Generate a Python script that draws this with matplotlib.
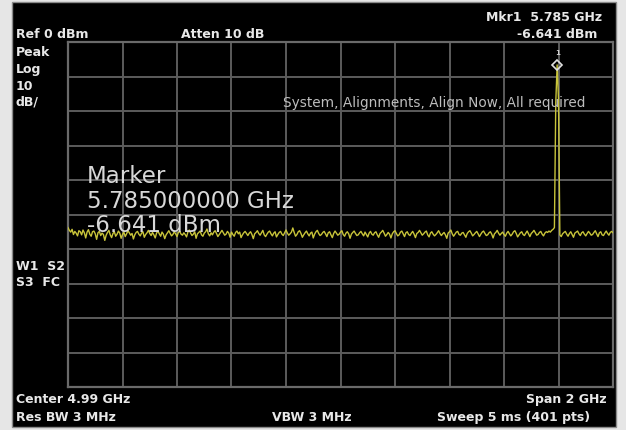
import numpy as np
import matplotlib
matplotlib.use("Agg")
import matplotlib.pyplot as plt
from matplotlib.patches import Rectangle

# analyzer settings
center_ghz = 4.99
span_ghz = 2.0
ref_dbm = 0.0
db_per_div = 10
n_points = 401

marker_freq_ghz = 5.785
marker_dbm = -6.641

# trace values (dBm), 401 points
trace_dbm = [
    -53.8, -54.6, -55.1, -54.3, -55.8, -54.9, -55.4, -56.2, -54.7, -55.0, -55.9, -54.5, -55.3, -56.8, -55.1, -54.4, -55.7, -56.3, -55.0, -54.8,
    -55.6, -57.2, -55.3, -54.9, -56.1, -55.4, -55.8, -57.5, -56.0, -55.2, -54.6, -55.9, -56.7, -55.5, -55.0, -56.3, -55.7, -54.8, -55.4, -56.9,
    -55.8, -55.1, -56.4, -55.6, -54.7, -55.3, -56.0, -55.5, -57.1, -55.9, -55.2, -54.9, -55.7, -56.2, -55.4, -55.0, -56.6, -55.8, -55.3, -54.6,
    -55.5, -56.1, -55.2, -55.9, -56.8, -55.4, -54.8, -55.6, -56.3, -55.1, -55.7, -57.0, -55.9, -55.3, -54.7, -55.5, -56.2, -55.8, -55.0, -55.6,
    -56.4, -55.2, -54.9, -55.7, -56.0, -55.3, -55.8, -56.5, -55.1, -54.5, -55.4, -56.1, -55.7, -55.0, -56.9, -55.6, -55.2, -54.8, -55.9, -56.3,
    -55.4, -55.0, -54.2, -55.6, -56.2, -55.3, -55.9, -55.1, -54.7, -55.5, -56.4, -55.8, -55.2, -54.6, -55.3, -56.0, -55.7, -54.9, -55.4, -56.6,
    -55.1, -55.8, -56.3, -55.2, -54.8, -55.6, -55.1, -56.7, -55.9, -55.3, -54.9, -55.5, -56.1, -55.4, -55.0, -55.8, -57.0, -55.6, -55.2, -54.7,
    -55.5, -56.0, -55.3, -54.6, -55.9, -56.4, -55.7, -55.1, -54.8, -55.6, -56.2, -55.4, -55.0, -56.5, -55.8, -55.2, -54.9, -55.7, -56.1, -55.3,
    -54.5, -55.4, -56.0, -55.6, -55.1, -53.9, -55.2, -56.3, -55.8, -55.0, -54.7, -55.5, -56.6, -55.9, -55.3, -54.8, -55.6, -56.2, -55.4, -55.1,
    -56.8, -55.7, -55.0, -54.6, -55.5, -56.1, -55.8, -55.2, -54.9, -55.6, -56.4, -55.3, -55.0, -55.9, -56.7, -55.5, -54.8, -55.4, -56.0, -55.7,
    -55.1, -54.7, -55.8, -56.3, -55.4, -55.0, -55.6, -56.9, -55.7, -55.2, -54.8, -55.5, -56.1, -55.9, -55.3, -54.9, -55.6, -56.2, -55.1, -55.8,
    -56.5, -55.4, -54.9, -55.7, -56.0, -55.3, -55.0, -55.9, -56.6, -55.5, -55.1, -54.6, -55.4, -56.3, -55.8, -55.2, -55.7, -56.8, -55.6, -55.0,
    -54.7, -55.5, -56.2, -55.9, -55.1, -54.8, -55.6, -56.4, -55.3, -55.0, -55.8, -56.1, -55.4, -54.9, -55.7, -56.7, -55.5, -55.2, -54.6, -55.3,
    -56.0, -55.6, -55.1, -54.8, -55.9, -56.5, -55.4, -55.0, -55.7, -56.2, -55.8, -55.3, -54.7, -55.5, -56.1, -55.6, -55.2, -55.9, -56.9, -55.4,
    -55.0, -54.5, -55.6, -56.3, -55.7, -55.1, -54.9, -55.8, -56.0, -55.4, -55.2, -55.9, -56.6, -55.5, -55.0, -54.7, -55.4, -56.2, -55.8, -55.3,
    -54.9, -55.6, -56.4, -55.7, -55.1, -54.8, -55.5, -56.1, -55.9, -55.3, -55.0, -55.7, -56.8, -55.6, -55.2, -54.6, -55.4, -56.0, -55.5, -55.1,
    -55.8, -56.3, -55.4, -54.9, -55.6, -56.2, -55.7, -55.0, -54.7, -55.5, -56.5, -55.9, -55.3, -55.0, -55.8, -56.1, -55.4, -54.8, -55.6, -56.4,
    -55.5, -55.1, -54.6, -55.3, -56.0, -55.8, -55.2, -54.9, -55.7, -56.2, -55.4, -55.0, -55.2, -54.8, -55.1, -54.6, -54.3, -53.8, -17.5, -6.641,
    -16.8, -55.9, -56.4, -55.6, -55.2, -54.9, -55.7, -56.3, -55.5, -55.0, -55.8, -56.6, -55.4, -55.1, -54.8, -55.6, -56.1, -55.3, -55.0, -55.7,
    -56.2, -55.5, -54.9, -55.4, -56.0, -55.8, -55.2, -54.7, -55.6, -56.4, -55.3, -55.0, -55.9, -56.1, -55.4, -54.8, -55.5, -56.0, -55.2, -54.9,
    -55.3,
]

header_left = ["Ref 0 dBm", "Atten 10 dB"]
mkr_lines = ["Mkr1  5.785 GHz", "-6.641 dBm"]
side_top = ["Peak", "Log", "10", "dB/"]
side_mid = ["W1  S2", "S3  FC"]
footer = ["Center 4.99 GHz", "Span 2 GHz", "Res BW 3 MHz", "VBW 3 MHz", "Sweep 5 ms (401 pts)"]
marker_box = ["Marker", "5.785000000 GHz", "-6.641 dBm"]
status_msg = "System, Alignments, Align Now, All required"

W, H = 626, 431
fig = plt.figure(figsize=(W / 100, H / 100), dpi=100)
fig.patch.set_facecolor("#e6e6e6")

# black screen area
fig.patches.append(Rectangle((12 / W, 1 - 428 / H), (616 - 12) / W, (428 - 3) / H,
                             transform=fig.transFigure, facecolor="black",
                             edgecolor="#8a8a8a", lw=1.0, zorder=-5))


def px(x, y):
    return x / W, 1 - y / H


ax = fig.add_axes([68 / W, 1 - 388 / H, (613 - 68) / W, (388 - 43) / H])
ax.set_zorder(2)
ax.set_facecolor("black")

f_start = center_ghz - span_ghz / 2
f_stop = center_ghz + span_ghz / 2
freqs = np.linspace(f_start, f_stop, n_points)
bottom = ref_dbm - 10 * db_per_div

ax.set_xlim(f_start, f_stop)
ax.set_ylim(bottom, ref_dbm)
ax.set_xticks(np.linspace(f_start, f_stop, 11))
ax.set_yticks(np.linspace(bottom, ref_dbm, 11))
ax.grid(True, color="#5c5c5c", lw=1.4)
ax.tick_params(length=0, labelbottom=False, labelleft=False)
for s in ax.spines.values():
    s.set_color("#6a6a6a")
    s.set_linewidth(1.6)

ax.plot(freqs, trace_dbm, color="#c8c43a", lw=1.0, zorder=3)
ax.plot([marker_freq_ghz], [marker_dbm], marker="D", ms=5, mfc="none",
        mec="#e0e0e0", mew=1.2, zorder=4, clip_on=False)
ax.annotate("1", xy=(marker_freq_ghz, marker_dbm), xytext=(0, 9),
            textcoords="offset points", ha="center", va="center",
            color="#d0d0d0", fontsize=5, fontweight="bold")

small = dict(color="#e8e8e8", fontsize=9, fontweight="bold", va="center", zorder=5)

fig.text(*px(16, 34.5), header_left[0], ha="left", **small)
fig.text(*px(181, 34.5), header_left[1], ha="left", **small)
fig.text(*px(602, 17.5), mkr_lines[0], ha="right", **small)
fig.text(*px(597, 35), mkr_lines[1], ha="right", **small)

for label, y in zip(side_top, [52, 69, 86, 102]):
    fig.text(*px(16, y), label, ha="left", **small)
for label, y in zip(side_mid, [267, 283]):
    fig.text(*px(16, y), label, ha="left", **small)

fig.text(*px(16, 400), footer[0], ha="left", **small)
fig.text(*px(607, 400), footer[1], ha="right", **small)
fig.text(*px(16, 418), footer[2], ha="left", **small)
fig.text(*px(272, 418), footer[3], ha="left", **small)
fig.text(*px(590, 418), footer[4], ha="right", **small)

fig.text(*px(283, 103), status_msg, ha="left", va="center",
         color="#bdbdbd", fontsize=9.8, zorder=5)

for label, y in zip(marker_box, [177, 201, 226]):
    fig.text(*px(87, y), label, ha="left", va="center", color="#d8d8d8",
             fontsize=16.5, zorder=5)

fig.savefig("out.png", dpi=100, facecolor=fig.get_facecolor())
